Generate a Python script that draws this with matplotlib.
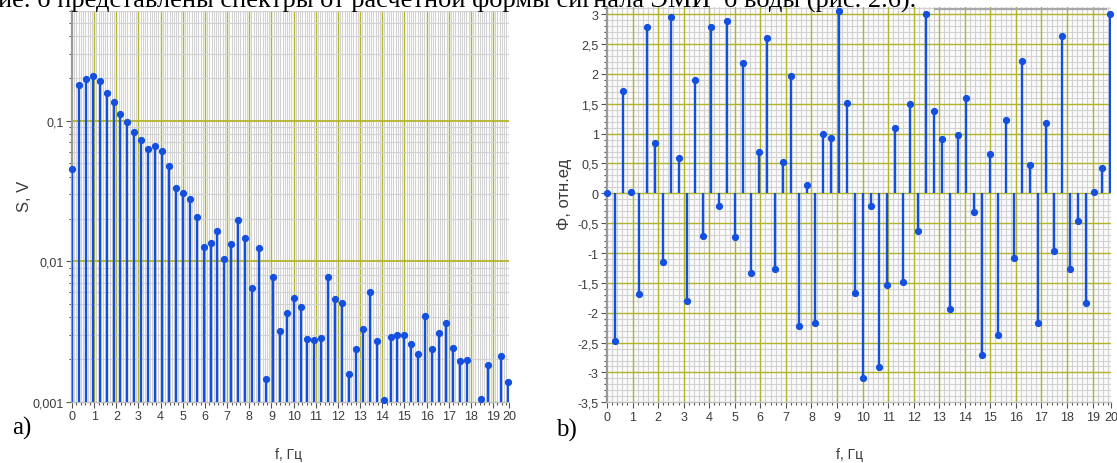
import numpy as np
import matplotlib
matplotlib.use("Agg")
import matplotlib.pyplot as plt
from matplotlib.ticker import FixedLocator, FuncFormatter, MultipleLocator, LogLocator, NullFormatter
from matplotlib.lines import Line2D

# Spectrum of the signal: harmonic amplitudes (V) and phases (rel. units)
df = 0.3125  # frequency resolution, Hz
amplitude = [
    0.0453, 0.180, 0.198, 0.209, 0.191, 0.157, 0.136, 0.111,
    0.0984, 0.0831, 0.0729, 0.0626, 0.066, 0.0609, 0.0478, 0.033,
    0.0304, 0.0276, 0.0205, 0.0127, 0.01355, 0.0163, 0.01037, 0.0133,
    0.0195, 0.01456, 0.00644, 0.01247, 0.00145, 0.00776, 0.0032, 0.00426,
    0.00547, 0.00472, 0.00279, 0.00275, 0.00284, 0.00768, 0.00541, 0.00504,
    0.00157, 0.00236, 0.00331, 0.00604, 0.00269, 0.00102, 0.0029, 0.00298,
    0.00298, 0.00256, 0.00217, 0.00406, 0.00236, 0.00308, 0.00365, 0.0024,
    0.00196, 0.00199, 0.0008, 0.00104, 0.00183, 0.0008, 0.0021, 0.00137,
]
phase = [
    0.0, -2.48, 1.71, 0.03, -1.69, 2.79, 0.845, -1.15,
    2.96, 0.595, -1.81, 1.90, -0.71, 2.78, -0.205, 2.89,
    -0.73, 2.18, -1.34, 0.695, 2.605, -1.26, 0.53, 1.96,
    -2.22, 0.14, -2.18, 1.0, 0.92, 3.06, 1.51, -1.67,
    -3.10, -0.22, -2.91, -1.53, 1.10, -1.48, 1.49, -0.63,
    3.0, 1.37, 0.91, -1.94, 0.97, 1.60, -0.32, -2.71,
    0.66, -2.37, 1.23, -1.09, 2.22, 0.48, -2.18, 1.17,
    -0.97, 2.64, -1.26, -0.46, -1.84, 0.02, 0.43, 3.0,
]
freq = df * np.arange(len(amplitude))

x_labels = [str(i) for i in range(21)]
amp_ticks = [0.001, 0.01, 0.1]
amp_labels = ["0,001", "0,01", "0,1"]

STEM = "#1450e0"
GOLD = "#b4b42a"
GRAY = "#d2d2d2"
TXT = "#3c3c3c"
SANS = ["Liberation Sans", "DejaVu Sans"]
SERIF = ["Liberation Serif", "DejaVu Serif"]
XMAX = 19.72

W, H = 1117, 464
fig = plt.figure(figsize=(W / 100, H / 100), dpi=100)
fig.patch.set_facecolor("white")


def px_axes(x0, x1, ytop, ybot):
    return fig.add_axes([x0 / W, 1 - ybot / H, (x1 - x0) / W, (ybot - ytop) / H])


def style_axes(ax):
    ax.set_facecolor("#fbfbfb")
    for s in ("top", "right"):
        ax.spines[s].set_visible(False)
    ax.spines["left"].set_color("#9a9a9a")
    ax.spines["left"].set_linewidth(1.6)
    ax.spines["bottom"].set_color("#bdbdbd")
    ax.spines["bottom"].set_linewidth(1.0)
    ax.tick_params(which="both", colors="#555555", labelcolor=TXT, labelsize=9,
                   width=0.8, pad=2)
    ax.tick_params(which="major", length=4)
    ax.tick_params(which="minor", length=2.5)
    # x ticks: integers, with the last label at the right edge
    ticks = list(range(20)) + [XMAX]
    ax.set_xticks(ticks)
    ax.set_xticklabels(x_labels, fontfamily=SANS)
    ax.xaxis.set_minor_locator(FixedLocator(np.arange(0, XMAX, 0.2)))
    ax.set_xlim(0, XMAX)


# ---------- a) amplitude spectrum ----------
ax1 = px_axes(72, 509, 12, 402.7)
ax1.set_yscale("log")
ax1.set_ylim(1e-3, 0.604)
style_axes(ax1)
ax1.set_yticks(amp_ticks)
ax1.set_yticklabels(amp_labels, fontfamily=SANS)
ax1.yaxis.set_minor_locator(LogLocator(base=10, subs=range(2, 10)))
ax1.yaxis.set_minor_formatter(NullFormatter())
for xv in np.arange(0.1, XMAX, 0.1):
    ax1.axvline(xv, color=GRAY, lw=0.7, zorder=0.5)
ax1.grid(which="minor", axis="y", color=GRAY, lw=0.8, zorder=0.6)
for xv in range(1, 20):
    ax1.axvline(xv, color=GOLD, lw=1.0, zorder=0.8)
for yv in amp_ticks[1:]:
    ax1.axhline(yv, color=GOLD, lw=1.3, zorder=0.8)

amp = np.array(amplitude)
ax1.vlines(freq, 1e-3, amp, color=STEM, lw=1.7, zorder=3)
vis = amp >= 1e-3
ax1.plot(freq[vis], amp[vis], "o", color=STEM, ms=4.2, zorder=4, clip_on=False)

# ---------- b) phase spectrum ----------
ax2 = px_axes(607, 1111, 8, 403.3)
ax2.set_ylim(-3.5, 3.12)
style_axes(ax2)
ax2.yaxis.set_major_locator(MultipleLocator(0.5))
ax2.yaxis.set_minor_locator(MultipleLocator(0.1))
ax2.yaxis.set_major_formatter(FuncFormatter(lambda v, p: f"{v:g}".replace(".", ",")))
for lab in ax2.get_yticklabels():
    lab.set_fontfamily(SANS)
for xv in np.arange(0.2, XMAX, 0.2):
    ax2.axvline(xv, color=GRAY, lw=0.8, zorder=0.5)
for yv in np.arange(-3.4, 3.11, 0.1):
    ax2.axhline(yv, color=GRAY, lw=0.8, zorder=0.5)
for xv in range(1, 20):
    ax2.axvline(xv, color=GOLD, lw=1.0, zorder=0.8)
for yv in np.arange(-3.0, 3.01, 0.5):
    ax2.axhline(yv, color=GOLD, lw=1.0, zorder=0.8)

ph = np.array(phase)
ax2.vlines(freq, 0, ph, color=STEM, lw=1.7, zorder=3)
ax2.plot(freq, ph, "o", color=STEM, ms=4.2, zorder=4, clip_on=False)

# ---------- labels ----------
fig.text(24 / W, 1 - 196 / H, "S, V", rotation=90, ha="center", va="center",
         fontsize=12, color=TXT, fontfamily=SANS)
fig.text(565 / W, 1 - 194 / H, "Φ, отн.ед", rotation=90, ha="center", va="center",
         fontsize=12, color=TXT, fontfamily=SANS)
fig.text(289 / W, 1 - 455 / H, "f, Гц", ha="center", va="center",
         fontsize=10, color=TXT, fontfamily=SANS)
fig.text(850 / W, 1 - 455 / H, "f, Гц", ha="center", va="center",
         fontsize=10, color=TXT, fontfamily=SANS)
fig.text(22 / W, 1 - 428 / H, "a)", ha="center", va="center",
         fontsize=18, color="black", fontfamily=SERIF)
fig.text(566 / W, 1 - 430 / H, "b)", ha="center", va="center",
         fontsize=18, color="black", fontfamily=SERIF)

# running text line above the figure
fig.text(-2 / W, 1 - 7 / H,
         "ие. б представлены спектры от расчетной формы сигнала ЭМИ  б воды (рис. 2.6).",
         ha="left", va="baseline", fontsize=19, color="black", fontfamily=SERIF,
         zorder=10)
fig.add_artist(Line2D([935 / W, 1106 / W], [1 - 10 / H, 1 - 10 / H],
                      color="#a8a8a8", lw=1.6, transform=fig.transFigure))

fig.savefig("out.png", dpi=100)
